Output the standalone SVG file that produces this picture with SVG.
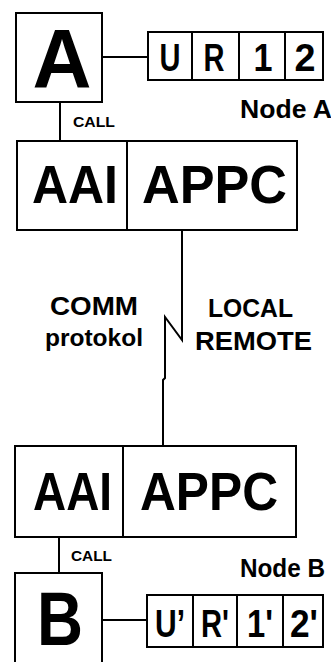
<svg xmlns="http://www.w3.org/2000/svg" width="331" height="662" viewBox="0 0 331 662">
<style>
.box{fill:#fff;stroke:#000;stroke-width:2}
.ln{fill:none;stroke:#000;stroke-width:2}
text{font-family:"Liberation Sans",Arial,sans-serif;fill:#000;font-weight:bold}
.big{font-size:84px;text-anchor:middle}
.mid{font-size:54px}
.reg{font-size:38px;text-anchor:middle}
.lbl{font-size:25px}
.call{font-size:15px}
.cm{font-size:26px}
</style>
<rect width="331" height="662" fill="#fff"/>
<g id="connectors">
<line class="ln" x1="102" y1="57" x2="148" y2="57"/>
<line class="ln" x1="60" y1="102" x2="60" y2="141"/>
<path class="ln" d="M182,230 V340 L165,317 V378 L163,380 V446"/>
<line class="ln" x1="59" y1="537" x2="59" y2="573"/>
<line class="ln" x1="102" y1="620" x2="147" y2="620"/>
</g>
<g id="nodeA">
<rect class="box" x="16" y="13" width="86" height="89"/>
<text class="big" x="62" y="88" textLength="59" lengthAdjust="spacingAndGlyphs">A</text>
</g>
<g id="regA">
<rect class="box" x="148" y="32" width="175" height="48"/>
<line class="ln" x1="192" y1="32" x2="192" y2="80"/>
<line class="ln" x1="239" y1="32" x2="239" y2="80"/>
<line class="ln" x1="285" y1="32" x2="285" y2="80"/>
<text class="reg" x="170" y="71" textLength="21" lengthAdjust="spacingAndGlyphs">U</text>
<text class="reg" x="214" y="71" textLength="21" lengthAdjust="spacingAndGlyphs">R</text>
<text class="reg" x="263" y="71" textLength="19" lengthAdjust="spacingAndGlyphs">1</text>
<text class="reg" x="305" y="71" textLength="21" lengthAdjust="spacingAndGlyphs">2</text>
</g>
<text id="nodeALabel" class="lbl" x="240" y="118" textLength="92" lengthAdjust="spacingAndGlyphs">Node A</text>
<text class="call" x="73" y="127" textLength="42" lengthAdjust="spacingAndGlyphs">CALL</text>
<g id="stackA">
<rect class="box" x="17" y="141" width="280" height="89"/>
<line class="ln" x1="127" y1="141" x2="127" y2="230"/>
<text class="mid" x="32" y="203" textLength="86" lengthAdjust="spacingAndGlyphs">AAI</text>
<text class="mid" x="142" y="203" textLength="145" lengthAdjust="spacingAndGlyphs">APPC</text>
</g>
<text class="cm" x="50" y="315" textLength="88" lengthAdjust="spacingAndGlyphs">COMM</text>
<text class="cm" x="45" y="346" style="font-size:23px" textLength="98" lengthAdjust="spacingAndGlyphs">protokol</text>
<text class="cm" x="208" y="317" textLength="85" lengthAdjust="spacingAndGlyphs">LOCAL</text>
<text class="cm" x="195" y="350" textLength="117" lengthAdjust="spacingAndGlyphs">REMOTE</text>
<g id="stackB">
<rect class="box" x="15" y="446" width="281" height="91"/>
<line class="ln" x1="123" y1="446" x2="123" y2="537"/>
<text class="mid" x="33" y="510" textLength="79" lengthAdjust="spacingAndGlyphs">AAI</text>
<text class="mid" x="140" y="510" textLength="138" lengthAdjust="spacingAndGlyphs">APPC</text>
</g>
<text class="call" x="71" y="561" textLength="41" lengthAdjust="spacingAndGlyphs">CALL</text>
<text id="nodeBLabel" class="lbl" x="240" y="577" textLength="85" lengthAdjust="spacingAndGlyphs">Node B</text>
<g id="nodeB">
<rect class="box" x="15" y="573" width="87" height="100"/>
<text class="big" x="60" y="645" style="font-size:76px" textLength="46" lengthAdjust="spacingAndGlyphs">B</text>
</g>
<g id="regB">
<rect class="box" x="147" y="595" width="176" height="52"/>
<line class="ln" x1="193" y1="595" x2="193" y2="647"/>
<line class="ln" x1="237" y1="595" x2="237" y2="647"/>
<line class="ln" x1="283" y1="595" x2="283" y2="647"/>
<text class="reg" x="170" y="637" textLength="30" lengthAdjust="spacingAndGlyphs">U’</text>
<text class="reg" x="215" y="637" textLength="28" lengthAdjust="spacingAndGlyphs">R'</text>
<text class="reg" x="260" y="637" textLength="26" lengthAdjust="spacingAndGlyphs">1'</text>
<text class="reg" x="304" y="637" textLength="28" lengthAdjust="spacingAndGlyphs">2'</text>
</g>
</svg>
